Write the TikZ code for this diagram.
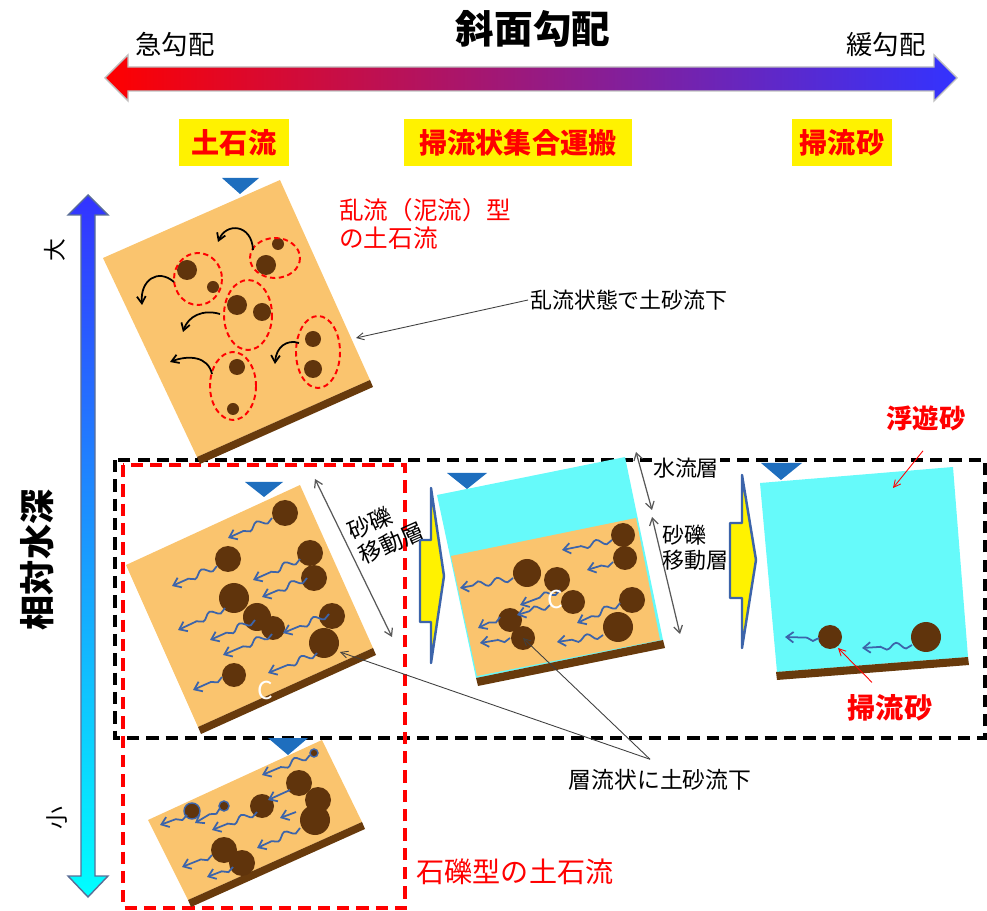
\documentclass[tikz,border=0pt]{standalone}
\usepackage{fontspec}
\setmainfont{Noto Sans CJK JP}
\usetikzlibrary{arrows.meta,decorations.pathmorphing}

\definecolor{sand}{RGB}{250,196,110}
\definecolor{stone}{RGB}{96,52,12}
\definecolor{bed}{RGB}{104,58,12}
\definecolor{water}{RGB}{102,250,250}
\definecolor{surfblue}{RGB}{30,110,190}
\definecolor{flowblue}{RGB}{60,100,170}
\definecolor{edge}{RGB}{90,110,150}

\begin{document}
\begin{tikzpicture}[x=0.02cm, y=-0.02cm,
	soil/.style={fill=sand},
	pool/.style={fill=water},
	bedrock/.style={fill=bed},
	rock/.style={fill=stone},
	surface/.style={fill=surfblue},
	eddy/.style={line width=1pt, -{Straight Barb[length=4pt,width=5pt]}},
	cluster/.style={draw=red, line width=1.1pt, dash pattern=on 3pt off 2pt},
	drift/.style={draw=flowblue, line width=1pt, -{Straight Barb[length=4pt,width=6pt]}, decorate, decoration={snake, amplitude=1.8pt, segment length=11pt, post length=7pt}},
	lead/.style={draw=black!75, line width=0.5pt, -{Straight Barb[length=4pt,width=4pt]}},
	span/.style={draw=black!65, line width=0.7pt, {Straight Barb[length=4pt,width=5pt]}-{Straight Barb[length=4pt,width=5pt]}},
	frame/.style={line width=2pt, dash pattern=on 7pt off 4pt},
	tag/.style={fill=yellow, text=red, font=\bfseries\fontsize{16}{16}\selectfont, minimum height=0.94cm, inner sep=0pt},
	push/.style={fill=yellow, draw=flowblue, line width=1.4pt, line join=round}
]
	\useasboundingbox (0,0) rectangle (987,911);

	% slope axis
	\shadedraw[left color=red, right color=blue!80!white, draw=gray!50, line width=0.8pt]
		(105,78) -- (128,55) -- (128,67) -- (934,67) -- (934,55) -- (957,78)
		-- (934,101) -- (934,91) -- (128,91) -- (128,101) -- cycle;
	\node[font=\bfseries\fontsize{22}{22}\selectfont] (slope) at (533,29) {斜面勾配};
	\node[font=\fontsize{15}{15}\selectfont] (steep) at (175,45) {急勾配};
	\node[font=\fontsize{15}{15}\selectfont] (gentle) at (886,45) {緩勾配};

	\node[tag, minimum width=2.2cm] (debris) at (234,143) {土石流};
	\node[tag, minimum width=4.58cm] (mass) at (518,143) {掃流状集合運搬};
	\node[tag, minimum width=2.0cm] (bedload) at (842,143) {掃流砂};

	% depth axis
	\shadedraw[top color=blue!80!white, bottom color=cyan, draw=edge, line width=0.8pt]
		(88,195) -- (108,215) -- (95,215) -- (95,876) -- (108,876) -- (88,897)
		-- (68,876) -- (81,876) -- (81,215) -- (68,215) -- cycle;
	\node[rotate=90, font=\bfseries\fontsize{20}{20}\selectfont] (depth) at (37,560) {相対水深};
	\node[rotate=90, font=\fontsize{13}{13}\selectfont] (deep) at (55,250) {大};
	\node[rotate=90, font=\fontsize{13}{13}\selectfont] (shallow) at (57,818) {小};

	% dashed groups
	\draw[frame] (115,460) rectangle (985,738);
	\draw[frame, draw=red] (123,465) rectangle (405,908);

	% turbulent (mud) flow
	\fill[soil] (103,258) -- (280,180) -- (370,380) -- (197,457) -- cycle;
	\fill[bedrock] (197,457) -- (370,380) -- (373,387) -- (200,464) -- cycle;
	\fill[surface] (222,178) -- (259,178) -- (240,194) -- cycle;

	\fill[rock] (187,270) circle (10);
	\fill[rock] (213,287) circle (6);
	\fill[rock] (278,244) circle (6);
	\fill[rock] (266,265) circle (10);
	\fill[rock] (237,305) circle (10);
	\fill[rock] (262,312) circle (9);
	\fill[rock] (313,339) circle (8);
	\fill[rock] (313,369) circle (9);
	\fill[rock] (237,367) circle (8);
	\fill[rock] (233,409) circle (6);

	\draw[cluster] (198,279) ellipse [x radius=24, y radius=26];
	\draw[cluster] (275,258) ellipse [x radius=25, y radius=20];
	\draw[cluster] (248,315) ellipse [x radius=24, y radius=35];
	\draw[cluster] (318,352) ellipse [x radius=22, y radius=36];
	\draw[cluster] (233,386) ellipse [x radius=23, y radius=34];

	\draw[eddy] (253,250) .. controls (252,224) and (226,222) .. (218,242);
	\draw[eddy] (174,282) .. controls (158,268) and (140,280) .. (142,305);
	\draw[eddy] (220,314) .. controls (203,309) and (188,316) .. (183,332);
	\draw[eddy] (212,374) .. controls (208,356) and (188,355) .. (170,362);
	\draw[eddy] (299,343) .. controls (287,339) and (276,347) .. (275,364);

	\node[anchor=north west, align=left, text=red, font=\fontsize{14}{16}\selectfont, inner sep=0pt] (mudflow) at (339,198) {乱流（泥流）型\\の土石流};
	\node[anchor=west, font=\fontsize{12.5}{12.5}\selectfont, inner sep=1pt] (turb) at (528,300) {乱流状態で土砂流下};
	\draw[lead] (turb.west) -- (356,338);

	% stony debris flow
	\fill[soil] (126,565) -- (300,485) -- (373,648) -- (198,727) -- cycle;
	\fill[bedrock] (198,727) -- (373,648) -- (376,655) -- (201,734) -- cycle;
	\fill[surface] (245,482) -- (283,482) -- (264,497) -- cycle;

	\fill[rock] (285,513) circle (13);
	\fill[rock] (228,559) circle (13);
	\fill[rock] (310,553) circle (13);
	\fill[rock] (314,578) circle (13);
	\fill[rock] (234,598) circle (15);
	\fill[rock] (257,617) circle (14);
	\fill[rock] (273,628) circle (12);
	\fill[rock] (332,616) circle (13);
	\fill[rock] (324,643) circle (15);
	\fill[rock] (234,675) circle (12);

	\draw[drift] (272,518) -- (228,538);
	\draw[drift] (217,566) -- (172,586);
	\draw[drift] (300,559) -- (253,580);
	\draw[drift] (307,578) -- (262,597);
	\draw[drift] (225,608) -- (178,630);
	\draw[drift] (255,620) -- (210,640);
	\draw[drift] (272,634) -- (223,655);
	\draw[drift] (329,614) -- (283,633);
	\draw[drift] (317,653) -- (268,673);
	\draw[drift] (222,677) -- (193,690);
	\node[text=white, font=\fontsize{14}{14}\selectfont] (cB) at (265,690) {C};

	\draw[span] (315,479) -- (392,637);
	\node[rotate=24, align=left, font=\fontsize{13}{15}\selectfont, inner sep=0pt] (layerL) at (386,531) {砂礫\\移動層};

	\filldraw[push] (420,540) -- (431,540) -- (431,488) -- (444,576) -- (431,663) -- (431,622) -- (420,622) -- cycle;

	% immature debris flow
	\fill[pool] (437,495) -- (625,457) -- (663,640) -- (476,678) -- cycle;
	\fill[soil] (451,556) -- (636,518) -- (660,640) -- (477,676) -- cycle;
	\fill[bedrock] (476,678) -- (663,640) -- (665,648) -- (478,686) -- cycle;
	\fill[surface] (447,473) -- (487,473) -- (467,489) -- cycle;

	\fill[rock] (527,573) circle (14);
	\fill[rock] (557,580) circle (13);
	\fill[rock] (573,602) circle (12);
	\fill[rock] (623,535) circle (12);
	\fill[rock] (625,558) circle (12);
	\fill[rock] (632,600) circle (13);
	\fill[rock] (618,627) circle (15);
	\fill[rock] (510,620) circle (12);
	\fill[rock] (523,638) circle (12);

	\draw[drift] (612,540) -- (562,550);
	\draw[drift] (613,562) -- (587,570);
	\draw[drift] (513,578) -- (460,588);
	\draw[drift] (560,590) -- (520,605);
	\draw[drift] (550,605) -- (517,615);
	\draw[drift] (620,603) -- (577,623);
	\draw[drift] (500,617) -- (478,628);
	\draw[drift] (603,635) -- (557,642);
	\draw[drift] (510,638) -- (480,643);
	\node[text=white, font=\fontsize{14}{14}\selectfont] (cC) at (555,599) {C};

	\draw[span] (636,452) -- (652,510);
	\draw[span] (652,517) -- (680,634);
	\node[fill=white, font=\fontsize{12.5}{12.5}\selectfont, inner sep=0.5pt] (waterL) at (686,468) {水流層};
	\node[anchor=north west, align=left, font=\fontsize{12.5}{14}\selectfont, inner sep=0pt] (layerR) at (662,525) {砂礫\\移動層};

	\filldraw[push] (730,523) -- (742,523) -- (742,475) -- (756,560) -- (742,648) -- (742,598) -- (730,598) -- cycle;

	% bed load
	\fill[pool] (760,483) -- (953,467) -- (968,657) -- (777,672) -- cycle;
	\fill[bedrock] (776,672) -- (968,657) -- (969,665) -- (777,680) -- cycle;
	\fill[surface] (761,463) -- (802,463) -- (781,480) -- cycle;

	\fill[rock] (830,637) circle (12);
	\fill[rock] (926,637) circle (15);
	\draw[drift] (819,638) -- (785,637);
	\draw[drift] (912,645) -- (862,648);

	\node[text=red, font=\bfseries\fontsize{15}{15}\selectfont] (susp) at (926,418) {浮遊砂};
	\draw[lead, draw=red] ([shift={(-3,14)}]susp.south) -- (893,488);
	\node[text=red, font=\bfseries\fontsize{16}{16}\selectfont] (roll) at (890,708) {掃流砂};
	\draw[lead, draw=red] ([shift={(-18,-6)}]roll.north) -- (838,648);

	% shallow stony flow
	\fill[soil] (148,820) -- (322,740) -- (362,822) -- (188,900) -- cycle;
	\fill[bedrock] (188,900) -- (362,822) -- (365,829) -- (191,907) -- cycle;
	\fill[surface] (268,738) -- (308,738) -- (288,755) -- cycle;

	\filldraw[rock, draw=flowblue, line width=0.8pt] (314,753) circle (4);
	\filldraw[rock, draw=flowblue, line width=0.8pt] (192,811) circle (8);
	\filldraw[rock, draw=flowblue, line width=0.8pt] (224,806) circle (5);
	\fill[rock] (262,806) circle (12);
	\fill[rock] (299,783) circle (13);
	\fill[rock] (318,800) circle (13);
	\fill[rock] (315,820) circle (15);
	\fill[rock] (224,850) circle (13);
	\fill[rock] (242,863) circle (13);

	\draw[drift] (310,755) -- (262,775);
	\draw[drift] (290,790) -- (268,800);
	\draw[drift] (296,812) -- (280,818);
	\draw[drift] (257,812) -- (212,830);
	\draw[drift] (220,808) -- (195,823);
	\draw[drift] (187,815) -- (160,825);
	\draw[drift] (300,828) -- (257,848);
	\draw[drift] (212,855) -- (182,867);
	\draw[drift] (233,867) -- (207,877);

	\node[text=red, font=\fontsize{16}{16}\selectfont] (stony) at (515,872) {石礫型の土石流};

	% laminar leaders
	\node[font=\fontsize{13}{13}\selectfont] (lam) at (660,780) {層流状に土砂流下};
	\draw[lead] ([shift={(-10,-4)}]lam.north) -- (340,652);
	\draw[lead] ([shift={(-10,-4)}]lam.north) -- (523,638);
\end{tikzpicture}
\end{document}
